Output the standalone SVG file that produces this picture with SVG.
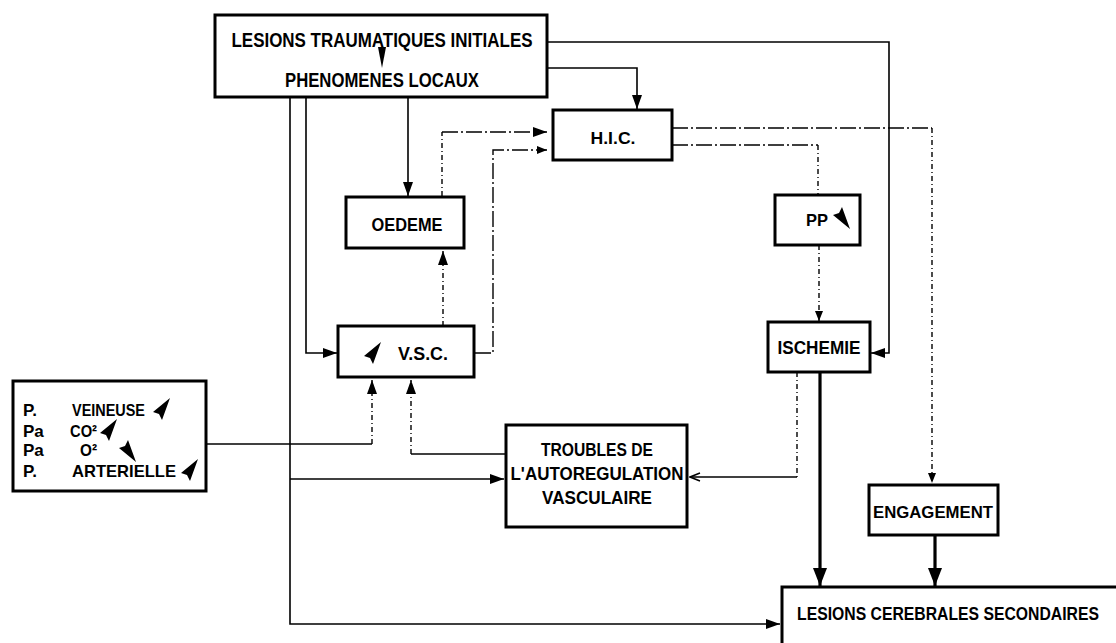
<svg xmlns="http://www.w3.org/2000/svg" width="1116" height="643" viewBox="0 0 1116 643">
<style>
.box{fill:#fff;stroke:#000;stroke-width:3}
.t{font-family:"Liberation Sans",Arial,sans-serif;font-weight:bold;fill:#000;text-anchor:middle;dominant-baseline:central}
.tl{font-family:"Liberation Sans",Arial,sans-serif;font-weight:bold;fill:#000;dominant-baseline:central}
.c{fill:none;stroke:#000;stroke-width:1.6}
.thick{fill:none;stroke:#000;stroke-width:3.2}
.dd{fill:none;stroke:#000;stroke-width:1.4;stroke-dasharray:16 3 2 3}
.ds{fill:none;stroke:#000;stroke-width:1.4;stroke-dasharray:5 3 1 3}
.g{fill:#000}
</style>
<defs>
<marker id="a" markerUnits="userSpaceOnUse" viewBox="0 0 14 10" refX="14" refY="5" markerWidth="14" markerHeight="10" orient="auto"><path d="M0,0 L14,5 L0,10 z"/></marker>
<marker id="ab" markerUnits="userSpaceOnUse" viewBox="0 0 18 14" refX="18" refY="7" markerWidth="18" markerHeight="14" orient="auto"><path d="M0,0 L18,7 L0,14 z"/></marker>
<marker id="as" markerUnits="userSpaceOnUse" viewBox="0 0 10 8" refX="10" refY="4" markerWidth="10" markerHeight="8" orient="auto"><path d="M0,0 L10,4 L0,8 z"/></marker>
<marker id="ao" markerUnits="userSpaceOnUse" viewBox="0 0 12 10" refX="11" refY="5" markerWidth="12" markerHeight="10" orient="auto"><path d="M1,1 L11,5 L1,9" fill="none" stroke="#000" stroke-width="1.5"/></marker>
<polygon id="up" points="8,-11 -9,3 -3,5 0,11"/>
<polygon id="dn" points="8,11 -9,-3 -3,-5 0,-11"/>
</defs>

<g id="connectors">
<path class="c" d="M547,42 H889 V353 H871" marker-end="url(#a)"/>
<path class="c" d="M547,68 H637 V109" marker-end="url(#a)"/>
<path class="c" d="M408,97 V196" marker-end="url(#a)"/>
<path class="c" d="M306,97 V353 H337" marker-end="url(#a)"/>
<path class="c" d="M290,97 V624 H780" marker-end="url(#a)"/>
<path class="c" d="M290,479 H504" marker-end="url(#a)"/>
<path class="ds" d="M442,196 V132"/>
<path class="dd" d="M442,132 H547" marker-end="url(#a)"/>
<path class="dd" d="M475,353 H493 V150 H547" marker-end="url(#as)"/>
<path class="ds" d="M443,326 V251" marker-end="url(#a)"/>
<path class="dd" d="M672,128 H932"/>
<path class="ds" d="M932,128 V483" marker-end="url(#as)"/>
<path class="dd" d="M672,145 H818"/>
<path class="ds" d="M818,145 V194"/>
<path class="ds" d="M819,245 V321" marker-end="url(#as)"/>
<path class="thick" d="M820,372 V586" marker-end="url(#ab)"/>
<path class="thick" d="M935,535 V586" marker-end="url(#ab)"/>
<path class="ds" d="M797,372 V477"/>
<path class="c" d="M797,477 H690" marker-end="url(#ao)"/>
<path class="c" d="M207,444 H372"/>
<path class="ds" d="M372,444 V380" marker-end="url(#a)"/>
<path class="c" d="M506,454 H411"/>
<path class="ds" d="M411,454 V380" marker-end="url(#a)"/>
</g>

<g id="n-top">
<rect class="box" x="215" y="15" width="332" height="82"/>
<text class="t" x="382" y="40" font-size="20" textLength="301" lengthAdjust="spacingAndGlyphs">LESIONS TRAUMATIQUES INITIALES</text>
<polygon class="g" points="378,47 386,47 382,68"/>
<text class="t" x="382" y="80" font-size="20" textLength="194" lengthAdjust="spacingAndGlyphs">PHENOMENES LOCAUX</text>
</g>

<g id="n-hic">
<rect class="box" x="553" y="110" width="119" height="50"/>
<text class="t" x="613" y="138" font-size="17" textLength="45" lengthAdjust="spacingAndGlyphs">H.I.C.</text>
</g>

<g id="n-oedeme">
<rect class="box" x="346" y="197" width="118" height="51"/>
<text class="t" x="407" y="224" font-size="19" textLength="71" lengthAdjust="spacingAndGlyphs">OEDEME</text>
</g>

<g id="n-pp">
<rect class="box" x="775" y="195" width="85" height="50"/>
<text class="t" x="817" y="220" font-size="17" textLength="22" lengthAdjust="spacingAndGlyphs">PP</text>
<use href="#dn" x="842" y="218"/>
</g>

<g id="n-vsc">
<rect class="box" x="338" y="326" width="136" height="51"/>
<use href="#up" x="373" y="353"/>
<text class="t" x="423" y="353" font-size="19" textLength="50" lengthAdjust="spacingAndGlyphs">V.S.C.</text>
</g>

<g id="n-ischemie">
<rect class="box" x="768" y="322" width="102" height="50"/>
<text class="t" x="819" y="348" font-size="18" textLength="83" lengthAdjust="spacingAndGlyphs">ISCHEMIE</text>
</g>

<g id="n-factors">
<rect class="box" x="13" y="381" width="193" height="110"/>
<text class="tl" x="23" y="410" font-size="17">P.</text>
<text class="tl" x="72" y="410" font-size="17" textLength="73" lengthAdjust="spacingAndGlyphs">VEINEUSE</text>
<use href="#up" x="162" y="409"/>
<text class="tl" x="23" y="431" font-size="17">Pa</text>
<text class="tl" x="70" y="431" font-size="17" textLength="27" lengthAdjust="spacingAndGlyphs">CO²</text>
<use href="#up" x="109" y="430"/>
<text class="tl" x="23" y="450" font-size="17">Pa</text>
<text class="tl" x="80" y="450" font-size="17" textLength="17" lengthAdjust="spacingAndGlyphs">O²</text>
<use href="#dn" x="128" y="451"/>
<text class="tl" x="23" y="471" font-size="17">P.</text>
<text class="tl" x="72" y="471" font-size="17" textLength="104" lengthAdjust="spacingAndGlyphs">ARTERIELLE</text>
<use href="#up" x="190" y="470"/>
</g>

<g id="n-troubles">
<rect class="box" x="506" y="425" width="181" height="102"/>
<text class="t" x="597" y="450" font-size="18" textLength="112" lengthAdjust="spacingAndGlyphs">TROUBLES DE</text>
<text class="t" x="597" y="474" font-size="18" textLength="173" lengthAdjust="spacingAndGlyphs">L'AUTOREGULATION</text>
<text class="t" x="597" y="498" font-size="18" textLength="110" lengthAdjust="spacingAndGlyphs">VASCULAIRE</text>
</g>

<g id="n-engagement">
<rect class="box" x="869" y="485" width="129" height="50"/>
<text class="t" x="933" y="512" font-size="17" textLength="120" lengthAdjust="spacingAndGlyphs">ENGAGEMENT</text>
</g>

<g id="n-lesions">
<path class="box" d="M1117,587 H782 V645"/>
<text class="t" transform="translate(948,613) scale(0.83,1)" x="0" y="0" font-size="19">LESIONS CEREBRALES SECONDAIRES</text>
</g>
</svg>
